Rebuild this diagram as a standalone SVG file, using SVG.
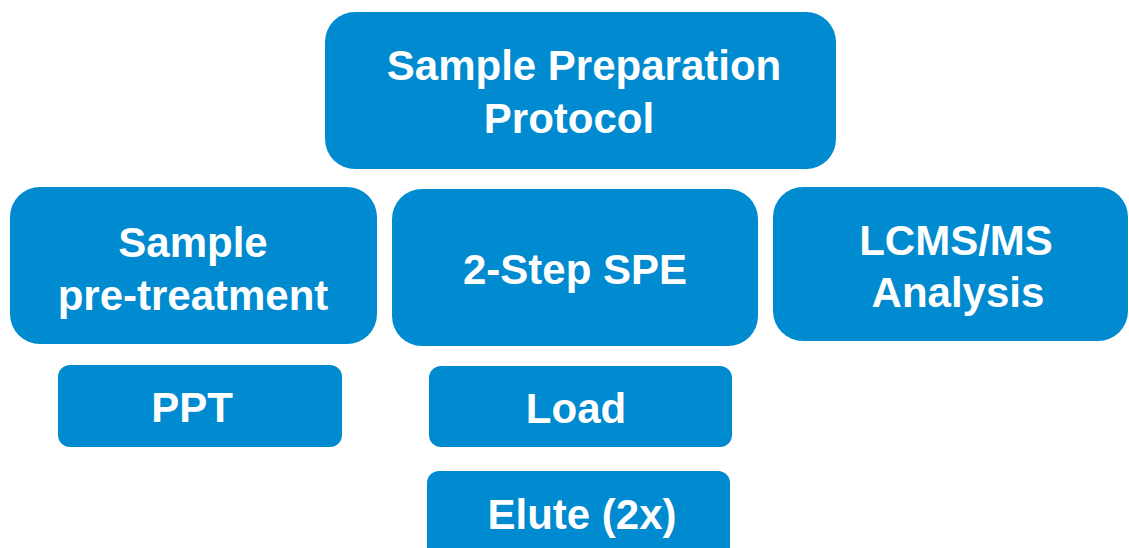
<svg xmlns="http://www.w3.org/2000/svg" width="1129" height="548" viewBox="0 0 1129 548">
<style>
.box{fill:#008AD0}
.t{fill:#FFFFFF;font-family:"Liberation Sans",Arial,sans-serif;font-weight:bold;font-size:42px;text-anchor:middle}
</style>
<rect x="0" y="0" width="1129" height="548" fill="#FFFFFF"/>
<g id="connectors"></g>
<g id="protocol">
<rect class="box" x="325" y="12" width="511" height="157" rx="30"/>
<text class="t" x="584" y="80">Sample Preparation</text>
<text class="t" x="569" y="133">Protocol</text>
</g>
<g id="pretreatment">
<rect class="box" x="10" y="187" width="367" height="157" rx="30"/>
<text class="t" x="193" y="257">Sample</text>
<text class="t" x="193" y="310">pre-treatment</text>
</g>
<g id="spe">
<rect class="box" x="392" y="189" width="366" height="157" rx="30"/>
<text class="t" x="575" y="284">2-Step SPE</text>
</g>
<g id="lcms">
<rect class="box" x="773" y="187" width="355" height="154" rx="30"/>
<text class="t" x="956" y="255">LCMS/MS</text>
<text class="t" x="958" y="307">Analysis</text>
</g>
<g id="ppt">
<rect class="box" x="58" y="365" width="284" height="82" rx="12"/>
<text class="t" x="192" y="422">PPT</text>
</g>
<g id="load">
<rect class="box" x="429" y="366" width="303" height="81" rx="12"/>
<text class="t" x="576" y="423">Load</text>
</g>
<g id="elute">
<rect class="box" x="427" y="471" width="303" height="100" rx="12"/>
<text class="t" x="582" y="529">Elute (2x)</text>
</g>
</svg>
